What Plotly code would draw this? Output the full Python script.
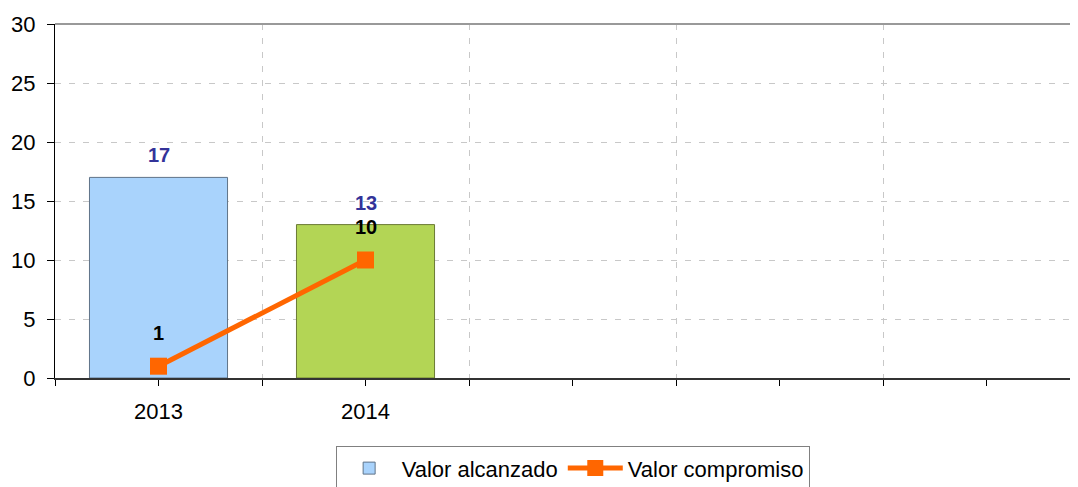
import plotly.graph_objects as go

categories = ["2013", "2014", "", "", ""]
valor_alcanzado = [17, 13]
valor_compromiso = [1, 10]
bar_colors = ["#A9D3FC", "#B3D555"]
bar_borders = ["#5F7388", "#6B7A35"]

x_idx = list(range(len(valor_alcanzado)))
FONT = "Liberation Sans, Arial, sans-serif"

fig = go.Figure()
fig.add_trace(go.Bar(
    x=x_idx, y=valor_alcanzado, width=0.667, name="Valor alcanzado",
    marker=dict(color=bar_colors, line=dict(color=bar_borders, width=1)),
))
fig.add_trace(go.Scatter(
    x=x_idx, y=valor_compromiso, mode="lines+markers", name="Valor compromiso",
    line=dict(color="#FF6600", width=5),
    marker=dict(symbol="square", size=17, color="#FF6600"),
))

for i, v in enumerate(valor_alcanzado):
    fig.add_annotation(x=i, y=v, text=f"<b>{v}</b>", showarrow=False,
                       yanchor="bottom", yshift=9,
                       font=dict(family=FONT, size=20, color="#333399"))
for i, v in enumerate(valor_compromiso):
    fig.add_annotation(x=i, y=v, text=f"<b>{v}</b>", showarrow=False,
                       yanchor="bottom", yshift=20,
                       font=dict(family=FONT, size=20, color="#000000"))

fig.add_shape(type="line", xref="paper", yref="paper", x0=0, x1=1, y0=1, y1=1,
              line=dict(color="#999999", width=2))

# page body has an 8px margin: size/margins compensate so the plot lands where the reference has it
fig.update_layout(
    width=1070, height=479,
    margin=dict(l=47, r=0, t=16, b=109, autoexpand=False),
    plot_bgcolor="white", paper_bgcolor="white",
    font=dict(family=FONT, size=22, color="#000000"),
    showlegend=True,
    legend=dict(orientation="h", x=0.506, xanchor="center", y=-0.193, yanchor="top",
                bordercolor="#808080", borderwidth=1, bgcolor="white",
                font=dict(size=22), itemwidth=55, tracegroupgap=0),
    xaxis=dict(
        range=[-0.5, 4.442],
        tickmode="array", tickvals=list(range(len(categories))), ticktext=categories,
        ticks="outside", ticklen=6, tickcolor="#000000", tickwidth=1,
        showgrid=False, zeroline=False,
        showline=True, linecolor="#333333", linewidth=2,
        ticklabelstandoff=7,
        minor=dict(tickmode="linear", tick0=0.5, dtick=1, ticks="outside", ticklen=6,
                   tickcolor="#000000", showgrid=True, gridcolor="#C8C8C8",
                   griddash="6px,8px", gridwidth=1),
    ),
    yaxis=dict(
        range=[0, 30], tickmode="linear", tick0=0, dtick=5,
        ticks="outside", ticklen=7, tickcolor="#000000",
        showgrid=True, gridcolor="#C8C8C8", griddash="6px,8px", gridwidth=1,
        zeroline=False, showline=True, linecolor="#000000", linewidth=1,
        ticklabelstandoff=7,
    ),
)

fig.write_html("out.html")
